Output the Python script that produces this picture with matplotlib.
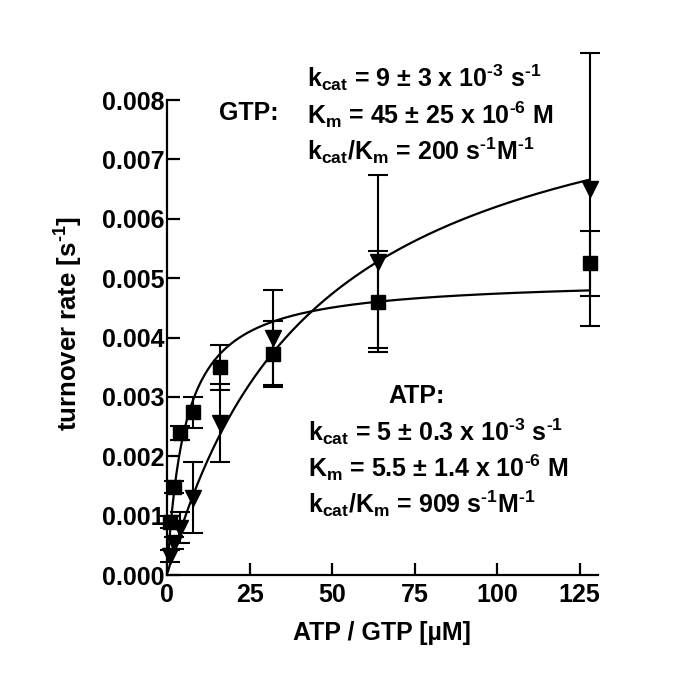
import numpy as np
import matplotlib
matplotlib.use("Agg")
import matplotlib.pyplot as plt

plt.rcParams['font.family'] = ['Liberation Sans', 'DejaVu Sans']
plt.rcParams['font.weight'] = 'bold'
plt.rcParams['mathtext.fontset'] = 'custom'
plt.rcParams['mathtext.rm'] = 'Liberation Sans:bold'
plt.rcParams['mathtext.bf'] = 'Liberation Sans:bold'
plt.rcParams['mathtext.it'] = 'Liberation Sans:bold'
plt.rcParams['mathtext.default'] = 'bf'

# ATP data (squares)
atp_x = [1, 2, 4, 8, 16, 32, 64, 128]
atp_y = [0.00089, 0.00148, 0.00239, 0.00274, 0.0035, 0.00372, 0.0046, 0.00525]
atp_err = [0.0001, 0.0001, 0.00012, 0.00026, 0.00038, 0.00055, 0.00085, 0.00055]

# GTP data (down triangles)
gtp_x = [1, 2, 4, 8, 16, 32, 64, 128]
gtp_y = [0.00032, 0.00054, 0.0008, 0.0013, 0.00256, 0.0040, 0.00528, 0.0065]
gtp_err = [0.0001, 0.0001, 0.00026, 0.0006, 0.00065, 0.0008, 0.00145, 0.0023]

# Michaelis-Menten fit parameters (from annotations)
atp_vmax, atp_km = 0.005, 5.5
gtp_vmax, gtp_km = 0.009, 45.0

xticks = [0, 25, 50, 75, 100, 125]
yticks = [0.000, 0.001, 0.002, 0.003, 0.004, 0.005, 0.006, 0.007, 0.008]

fig = plt.figure(figsize=(6.85, 6.98), dpi=100)
ax = fig.add_axes([0.2438, 0.1762, 0.629, 0.6805])

xs = np.linspace(0.3, 128, 400)
ax.plot(xs, atp_vmax * xs / (atp_km + xs), color='black', lw=1.6, clip_on=False)
ax.plot(xs, gtp_vmax * xs / (gtp_km + xs), color='black', lw=1.6, clip_on=False)

ax.errorbar(atp_x, atp_y, yerr=atp_err, fmt='s', color='black', ms=10,
            capsize=7, elinewidth=1.5, capthick=1.5, clip_on=False)
ax.errorbar(gtp_x, gtp_y, yerr=gtp_err, fmt='v', color='black', ms=12,
            capsize=7, elinewidth=1.5, capthick=1.5, clip_on=False)

ax.set_xlim(0, 130.5)
ax.set_ylim(0, 0.008)
ax.set_xticks(xticks)
ax.set_yticks(yticks)
ax.set_yticklabels([f"{v:.3f}" for v in yticks])
ax.spines['top'].set_visible(False)
ax.spines['right'].set_visible(False)
for s in ['left', 'bottom']:
    ax.spines[s].set_linewidth(1.6)
ax.tick_params(direction='in', length=9, width=1.6, labelsize=18)
ax.tick_params(axis='y', pad=2)
ax.tick_params(axis='x', pad=6)
for lab in ax.get_xticklabels() + ax.get_yticklabels():
    lab.set_fontweight('bold')

ax.set_xlabel(r"ATP / GTP [µM]", fontsize=18, fontweight='bold')
ax.xaxis.set_label_coords(0.5, -0.097)
ax.set_ylabel(r"turnover rate [s$^{\text{-}1}$]", fontsize=18.5, fontweight='bold')
ax.yaxis.set_label_coords(-0.19, 0.53)

fs = 18
fig.text(219 / 685, 1 - 113 / 698, "GTP:", fontsize=fs, va='center', ha='left')
fig.text(307 / 685, 1 - 78 / 698, r"k$_{cat}$ = 9 ± 3 x 10$^{\text{-}3}$ s$^{\text{-}1}$", fontsize=fs, va='center')
fig.text(307 / 685, 1 - 115 / 698, r"K$_{m}$ = 45 ± 25 x 10$^{\text{-}6}$ M", fontsize=fs, va='center')
fig.text(307 / 685, 1 - 151 / 698, r"k$_{cat}$/K$_{m}$ = 200 s$^{\text{-}1}$M$^{\text{-}1}$", fontsize=fs, va='center')

fig.text(388 / 685, 1 - 396 / 698, "ATP:", fontsize=fs, va='center', ha='left')
fig.text(308 / 685, 1 - 432 / 698, r"k$_{cat}$ = 5 ± 0.3 x 10$^{\text{-}3}$ s$^{\text{-}1}$", fontsize=fs, va='center')
fig.text(308 / 685, 1 - 468 / 698, r"K$_{m}$ = 5.5 ± 1.4 x 10$^{\text{-}6}$ M", fontsize=fs, va='center')
fig.text(308 / 685, 1 - 504 / 698, r"k$_{cat}$/K$_{m}$ = 909 s$^{\text{-}1}$M$^{\text{-}1}$", fontsize=fs, va='center')

fig.savefig("out.png", dpi=100, facecolor='white')
